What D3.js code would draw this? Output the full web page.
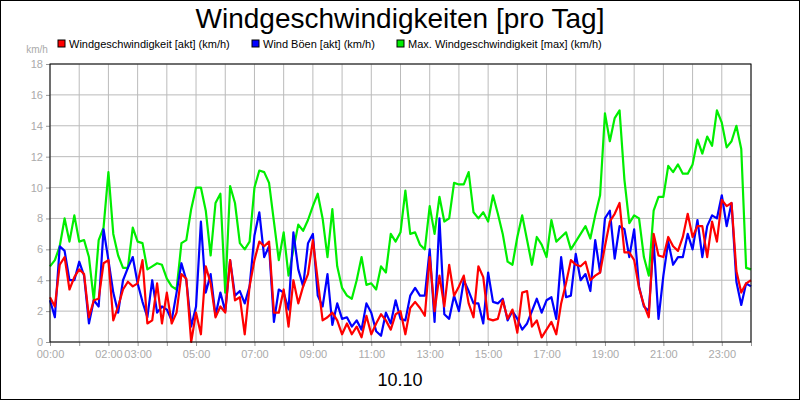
<!DOCTYPE html>
<html>
<head>
<meta charset="utf-8">
<script src="https://cdn.jsdelivr.net/npm/d3@7"></script>
<style>
body { margin: 0; background: #fff; }
svg { font-family: "Liberation Sans", Arial, sans-serif; }
</style>
</head>
<body>
<div id="chart"></div>
<script>
// values every 10 minutes, 00:00 .. 24:00
var windAkt = [2.9,2.3,5.0,5.5,3.4,4.2,4.7,4.4,1.6,2.7,2.8,5.1,5.3,1.4,2.3,3.4,3.9,3.6,3.8,5.3,1.2,1.4,3.8,1.2,3.2,1.2,1.9,4.4,4.1,0,1.9,0.5,4.9,3.8,1.6,
  2.3,1.9,5.3,2.7,2.9,0.5,3.6,5.3,6.5,6.2,6.5,1.9,1.9,3.4,1.0,4.0,2.5,3.6,4.4,6.6,4.0,1.4,1.6,1.9,1.4,0.5,1.2,0.5,1.0,0.3,1.7,0.5,1.2,1.8,1.4,
  0.8,1.8,2.0,0.5,2.2,2.6,2.2,1.7,5.5,2.0,4.3,2.3,5.0,3.0,3.6,4.3,2.5,1.6,4.9,4.2,1.5,1.4,1.5,2.7,1.5,2.1,0.6,3.2,3.3,1.0,1.4,0.3,0.8,1.3,0.5,
  2.5,3.8,5.3,5.0,4.9,5.2,4.0,4.3,4.5,6.2,7.8,8.3,9.0,5.8,5.8,5.3,3.5,2.4,1.6,7.0,5.6,5.5,6.8,6.2,5.9,6.8,8.3,6.8,7.5,7.5,5.5,7.8,6.5,9.2,8.8,9.0,4.6,3.2,3.8,4.0];
var windBoeen = [2.7,1.6,6.2,5.9,4.0,4.0,5.2,4.3,1.2,2.7,2.3,7.3,5.3,3.2,1.9,4.0,4.8,5.5,3.8,2.6,1.6,4.0,1.9,2.3,2.1,1.4,3.2,5.1,4.0,1.0,2.3,7.8,3.2,4.4,1.7,
  3.2,2.0,5.3,3.0,3.3,2.5,3.6,6.9,8.4,5.5,6.2,1.3,3.4,3.2,2.1,7.1,4.7,3.6,6.4,7.0,3.0,2.3,4.4,1.1,2.5,1.5,1.6,1.0,1.4,0.8,2.5,1.9,0.7,0.4,1.9,
  1.2,2.7,1.5,1.4,3.0,3.5,3.0,3.0,6.0,1.3,8.0,1.8,1.5,3.0,2.0,4.0,3.3,2.5,2.5,1.2,4.5,2.6,2.5,2.8,1.4,2.0,1.5,0.8,1.2,2.0,2.8,1.9,2.7,2.9,1.5,
  5.5,2.9,3.0,5.7,4.0,4.4,3.3,6.6,4.5,8.0,8.5,5.4,7.5,7.3,5.5,7.3,3.6,2.3,2.0,6.5,1.5,4.3,6.5,5.0,5.5,5.5,7.0,6.0,7.9,5.5,7.5,8.2,8.0,9.5,7.5,9.0,3.9,2.4,3.8,3.6];
var windMax = [4.9,5.3,6.2,8.0,6.5,8.2,6.5,6.6,5.5,2.7,6.6,7.4,11.0,7.0,5.6,4.8,4.8,7.4,6.5,6.4,4.7,4.9,5.1,5.0,4.1,3.6,3.4,6.4,6.6,8.6,10.0,10.0,8.5,5.6,9.0,
  9.6,3.2,10.1,9.0,6.4,6.0,6.5,10.0,11.1,11.0,10.3,7.8,5.3,7.1,4.3,6.0,7.6,7.2,7.9,8.8,9.6,8.0,5.5,8.6,4.9,3.5,3.0,2.8,4.0,5.5,3.7,3.8,3.4,4.9,4.5,
  7.0,6.5,7.1,9.8,7.0,7.1,6.3,6.0,8.8,7.0,9.4,7.8,8.0,10.3,10.2,10.2,11.0,8.4,8.0,8.4,7.8,9.5,8.3,7.0,5.2,5.0,6.8,8.2,6.6,5.0,6.8,6.3,5.5,7.9,6.5,
  6.8,7.1,6.0,6.5,7.0,7.5,6.7,8.2,9.5,14.8,13.0,14.5,15.0,10.5,7.7,8.2,8.0,5.5,4.3,8.5,9.4,9.4,11.4,11.0,11.5,10.9,10.9,11.5,13.1,12.2,13.3,12.7,15.0,14.2,12.6,13.0,14.0,12.5,4.8,4.7];

var tickHours = [0,2,3,5,7,9,11,13,15,17,19,21,23];
var yTicks = [0,2,4,6,8,10,12,14,16,18];
var seriesNames = ["Windgeschwindigkeit [akt] (km/h)", "Wind Böen [akt] (km/h)", "Max. Windgeschwindigkeit [max] (km/h)"];
var seriesColors = ["#ff0000", "#0000ff", "#00ee00"];

var svg = d3.select("#chart").append("svg")
  .attr("width", 800)
  .attr("height", 400);

svg.append("rect")
  .attr("x", 0.5).attr("y", 0.5)
  .attr("width", 799).attr("height", 399)
  .attr("fill", "#fff").attr("stroke", "#000");

var plotLeft = 50, plotRight = 751, plotTop = 64, plotBottom = 342;

var x = d3.scaleLinear().domain([0, 24]).range([plotLeft, plotRight]);
var y = d3.scaleLinear().domain([0, 18]).range([plotBottom, plotTop]);

// grid
svg.append("g").selectAll("line")
  .data(d3.range(0, 25))
  .join("line")
  .attr("x1", d => x(d)).attr("x2", d => x(d))
  .attr("y1", plotTop).attr("y2", plotBottom)
  .attr("stroke", "#bbb");
svg.append("g").selectAll("line")
  .data(yTicks)
  .join("line")
  .attr("x1", plotLeft).attr("x2", plotRight)
  .attr("y1", d => y(d)).attr("y2", d => y(d))
  .attr("stroke", "#bbb");

// axes
var yAxis = svg.append("g")
  .attr("transform", `translate(${plotLeft},0)`)
  .call(d3.axisLeft(y).tickValues(yTicks).tickSize(4).tickPadding(3));
var xAxis = svg.append("g")
  .attr("transform", `translate(0,${plotBottom})`)
  .call(d3.axisBottom(x).tickValues(d3.range(0, 25)).tickSize(4).tickPadding(4)
    .tickFormat(d => tickHours.indexOf(d) >= 0 ? d3.format("02")(d) + ":00" : ""));
[xAxis, yAxis].forEach(function(a) {
  a.select(".domain").remove();
  a.selectAll("line").attr("stroke", "#999");
  a.selectAll("text").attr("fill", "#aaa").style("font-size", "11px");
});

// lines
var line = d3.line()
  .x((d, i) => x(i / 6))
  .y(d => y(d));

[windMax, windBoeen, windAkt].forEach(function(s, j) {
  svg.append("path")
    .datum(s)
    .attr("fill", "none")
    .attr("stroke", seriesColors[2 - j])
    .attr("stroke-width", 2.2)
    .attr("stroke-linejoin", "round")
    .attr("d", line);
});

// plot frame
svg.append("rect")
  .attr("x", plotLeft).attr("y", plotTop)
  .attr("width", plotRight - plotLeft).attr("height", plotBottom - plotTop)
  .attr("fill", "none").attr("stroke", "#000");

// title
svg.append("text")
  .attr("x", 400).attr("y", 28)
  .attr("text-anchor", "middle")
  .style("font-size", "28px")
  .text("Windgeschwindigkeiten [pro Tag]");

svg.append("text")
  .attr("x", 37).attr("y", 53)
  .attr("text-anchor", "middle")
  .attr("fill", "#aaa")
  .style("font-size", "10px")
  .text("km/h");

// legend
var legendX = [58, 252, 397];
var legend = svg.append("g").selectAll("g")
  .data(seriesNames)
  .join("g")
  .attr("transform", (d, i) => `translate(${legendX[i]},40)`);
legend.append("rect")
  .attr("width", 7).attr("height", 7)
  .attr("fill", (d, i) => seriesColors[i])
  .attr("stroke", "#000");
legend.append("text")
  .attr("x", 11).attr("y", 8)
  .style("font-size", "11px")
  .text(d => d);

svg.append("text")
  .attr("x", 400).attr("y", 386)
  .attr("text-anchor", "middle")
  .style("font-size", "18px")
  .text("10.10");
</script>
</body>
</html>
